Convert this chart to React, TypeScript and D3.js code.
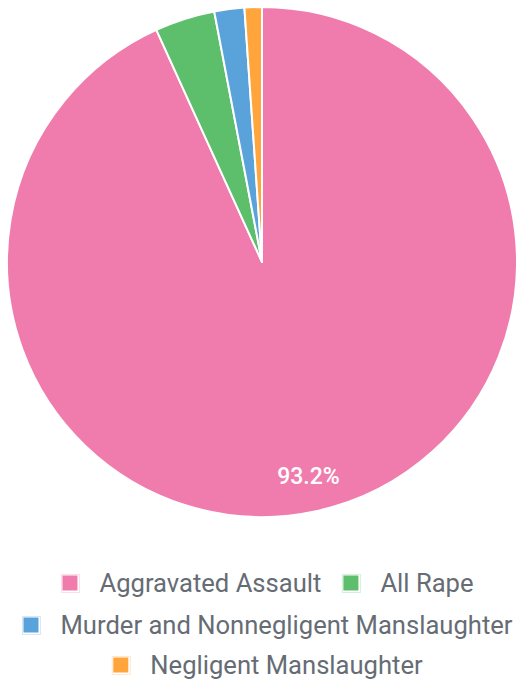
import React, { useEffect, useRef } from "react";
import * as d3 from "d3";

const categories = [
  "Aggravated Assault",
  "All Rape",
  "Murder and Nonnegligent Manslaughter",
  "Negligent Manslaughter",
];
const values = [93.2, 3.8, 1.9, 1.1];
const colors = ["#f07cad", "#5dbe6b", "#5aa3da", "#ffa53c"];
const legendRows = [[0, 1], [2], [3]];

const W = 516;
const H = 684;

export default function App() {
  const ref = useRef<SVGSVGElement>(null);
  useEffect(() => {
    const svg = d3.select(ref.current);
    svg.selectAll("*").remove();
    const cx = 262, cy = 262, r = 255;
    const pie = d3.pie<number>().sort(null).value((d) => d);
    const arcs = pie(values);
    const arc = d3.arc<d3.PieArcDatum<number>>().innerRadius(0).outerRadius(r);
    const g = svg.append("g").attr("transform", `translate(${cx},${cy})`);
    g.selectAll("path")
      .data(arcs)
      .join("path")
      .attr("d", arc as any)
      .attr("fill", (_, i) => colors[i])
      .attr("stroke", "#fff")
      .attr("stroke-width", 2)
      .attr("stroke-linejoin", "round");
    const labelArc = d3.arc<d3.PieArcDatum<number>>().innerRadius(r * 0.86).outerRadius(r * 0.86);
    g.selectAll("text.pct")
      .data(arcs.filter((a) => a.data > 10))
      .join("text")
      .attr("class", "pct")
      .attr("transform", (d) => `translate(${labelArc.centroid(d)})`)
      .attr("text-anchor", "middle")
      .attr("dy", "0.35em")
      .attr("fill", "#fff")
      .attr("font-family", "Roboto")
      .attr("font-weight", 500)
      .attr("font-size", 23)
      .text((d) => `${d.data.toFixed(1)}%`);

    const fontSize = 25.6;
    const marker = 15;
    const gap = 22;
    const rowY = [583, 625, 665];
    const centerX = 268;
    legendRows.forEach((row, ri) => {
      const rg = svg.append("g");
      let x = 0;
      row.forEach((idx, k) => {
        if (k > 0) x += gap;
        const ig = rg.append("g").attr("transform", `translate(${x},0)`);
        ig.append("rect")
          .attr("x", -1)
          .attr("y", -marker / 2 - 1)
          .attr("width", marker + 3)
          .attr("height", marker + 3)
          .attr("fill", "none")
          .attr("stroke", colors[idx])
          .attr("stroke-opacity", 0.25)
          .attr("stroke-width", 1);
        ig.append("rect")
          .attr("x", 0)
          .attr("y", -marker / 2)
          .attr("width", marker)
          .attr("height", marker)
          .attr("fill", colors[idx]);
        const t = ig.append("text")
          .attr("x", marker + gap)
          .attr("dy", "0.35em")
          .attr("fill", "#666c74")
          .attr("font-family", "Roboto")
          .attr("font-size", fontSize)
          .text(categories[idx]);
        const tw = (t.node() as SVGTextElement).getComputedTextLength();
        x += marker + gap + tw;
      });
      rg.attr("transform", `translate(${centerX - x / 2},${rowY[ri]})`);
    });
  }, []);
  return (
    <svg ref={ref} width={W} height={H} style={{ position: "absolute", left: 0, top: 0, background: "#fff" }} />
  );
}
